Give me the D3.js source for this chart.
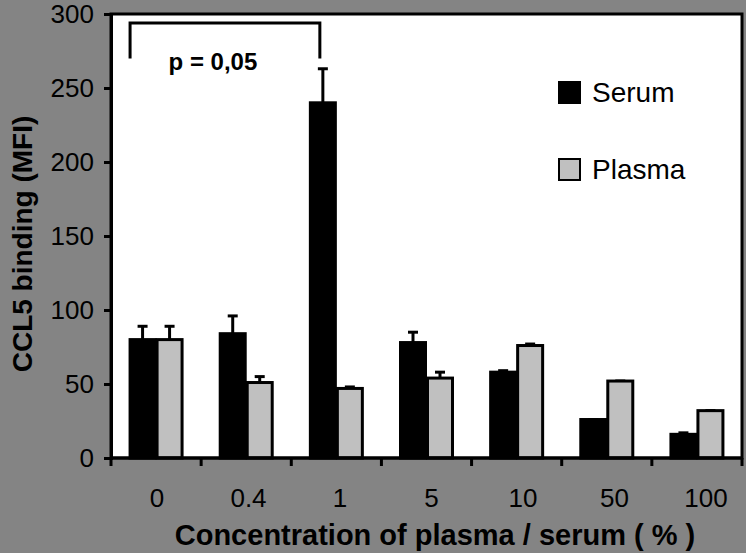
<!DOCTYPE html>
<html lang="en">
<head>
<meta charset="UTF-8">
<title>CCL5 binding</title>
<script src="https://d3js.org/d3.v7.min.js"></script>
<style>
  html, body { margin: 0; padding: 0; background: #848484; }
  svg { display: block; font-family: "Liberation Sans", Arial, sans-serif; }
</style>
</head>
<body>
<div id="chart"></div>
<script>
// values
const categories = ["0", "0.4", "1", "5", "10", "50", "100"];
const serum      = [80, 84, 240, 78, 58, 26, 16];
const serumErr   = [9, 12, 23, 7, 1, 0, 1];
const plasma     = [80, 51, 47, 54, 76, 52, 32];
const plasmaErr  = [9, 4, 1, 4, 1, 0, 0];
const yTicks     = [0, 50, 100, 150, 200, 250, 300];

const width = 746, height = 553;
const margin = { top: 14, right: 4, bottom: 95, left: 111 };

const svg = d3.select("#chart").append("svg")
    .attr("width", width)
    .attr("height", height);

svg.append("rect").attr("width", width).attr("height", height).attr("fill", "#848484");

const x = d3.scaleBand()
    .domain(categories)
    .range([margin.left, width - margin.right]);

// the category labels sit a little right of the bar groups in the original
const xLabel = d3.scalePoint()
    .domain(categories)
    .range([157, 706]);

const y = d3.scaleLinear()
    .domain([0, 300])
    .range([height - margin.bottom, margin.top]);

const barW = 27;

// plot area
svg.append("rect")
    .attr("x", margin.left).attr("y", margin.top)
    .attr("width", width - margin.right - margin.left)
    .attr("height", y(0) - margin.top)
    .attr("fill", "#fff");

// series
const series = [
    { name: "Serum", values: serum, err: serumErr, fill: "#000", offset: -barW },
    { name: "Plasma", values: plasma, err: plasmaErr, fill: "#c0c0c0", offset: 0 }
];

series.forEach(s => {
    const g = svg.append("g");
    const cx = (d, i) => x(categories[i]) + x.bandwidth() / 2 + s.offset;

    // error bars (drawn first, bars cover the bottom)
    g.selectAll("line.err").data(s.values).enter().append("line")
        .attr("x1", (d, i) => cx(d, i) + barW / 2)
        .attr("x2", (d, i) => cx(d, i) + barW / 2)
        .attr("y1", d => y(d))
        .attr("y2", (d, i) => y(d + s.err[i]))
        .attr("stroke", "#000").attr("stroke-width", 3);
    g.selectAll("line.cap").data(s.values).enter().append("line")
        .attr("x1", (d, i) => cx(d, i) + barW / 2 - 5)
        .attr("x2", (d, i) => cx(d, i) + barW / 2 + 5)
        .attr("y1", (d, i) => y(d + s.err[i]))
        .attr("y2", (d, i) => y(d + s.err[i]))
        .attr("stroke", "#000").attr("stroke-width", 3);

    g.selectAll("rect").data(s.values).enter().append("rect")
        .attr("x", (d, i) => cx(d, i) + 1)
        .attr("y", d => y(d))
        .attr("width", barW - 2)
        .attr("height", d => y(0) - y(d))
        .attr("fill", s.fill)
        .attr("stroke", "#000")
        .attr("stroke-width", 3);
});

// frame
svg.append("rect")
    .attr("x", margin.left).attr("y", margin.top)
    .attr("width", width - margin.right - margin.left)
    .attr("height", y(0) - margin.top)
    .attr("fill", "none")
    .attr("stroke", "#000")
    .attr("stroke-width", 3);

// y axis
const yAxis = svg.append("g")
    .attr("transform", `translate(${margin.left},0)`)
    .call(d3.axisLeft(y).tickValues(yTicks).tickSize(7).tickPadding(10));
yAxis.select(".domain").attr("stroke-width", 3);
yAxis.selectAll(".tick line").attr("stroke-width", 3);
yAxis.selectAll("text").attr("font-size", 26).attr("fill", "#000")
    .attr("font-family", "Liberation Sans, Arial, sans-serif");

// x axis: ticks between categories
const xAxis = svg.append("g")
    .attr("transform", `translate(0,${y(0)})`);
xAxis.append("line")
    .attr("x1", margin.left).attr("x2", width - margin.right)
    .attr("stroke", "#000").attr("stroke-width", 3);
const bounds = categories.map(c => x(c)).concat([x.range()[1]]);
xAxis.selectAll("line.tk").data(bounds).enter().append("line")
    .attr("x1", d => d).attr("x2", d => d)
    .attr("y1", 0).attr("y2", 8)
    .attr("stroke", "#000").attr("stroke-width", 3);
xAxis.selectAll("text").data(categories).enter().append("text")
    .attr("x", d => xLabel(d))
    .attr("y", 49)
    .attr("text-anchor", "middle")
    .attr("font-size", 26)
    .text(d => d);

// axis titles
svg.append("text")
    .attr("x", 435).attr("y", 545)
    .attr("text-anchor", "middle")
    .attr("font-size", 29).attr("font-weight", "bold")
    .text("Concentration of plasma / serum ( % )");

svg.append("text")
    .attr("transform", `translate(32,${(margin.top + y(0)) / 2 + 8}) rotate(-90)`)
    .attr("text-anchor", "middle")
    .attr("font-size", 28).attr("font-weight", "bold")
    .text("CCL5 binding (MFI)");

// significance bracket between serum 0 and serum 1
const bx1 = x(categories[0]) + x.bandwidth() / 2 - barW + 1;
const bx2 = x(categories[2]) + x.bandwidth() / 2 - barW / 2 - 3;
svg.append("path")
    .attr("d", `M${bx1},${y(270)}V${y(294)}H${bx2}V${y(270)}`)
    .attr("fill", "none").attr("stroke", "#000").attr("stroke-width", 3);
svg.append("text")
    .attr("x", (bx1 + bx2) / 2 - 12).attr("y", 70)
    .attr("text-anchor", "middle")
    .attr("font-size", 24).attr("font-weight", "bold")
    .text("p = 0,05");

// legend
const legend = svg.append("g").attr("transform", "translate(558,81)");
series.forEach((s, i) => {
    const row = legend.append("g").attr("transform", `translate(0,${i * 77})`);
    row.append("rect")
        .attr("x", 1).attr("y", 1).attr("width", 21).attr("height", 21)
        .attr("fill", s.fill).attr("stroke", "#000").attr("stroke-width", 2);
    row.append("text")
        .attr("x", 34).attr("y", 21)
        .attr("font-size", 28)
        .text(s.name);
});
</script>
</body>
</html>
